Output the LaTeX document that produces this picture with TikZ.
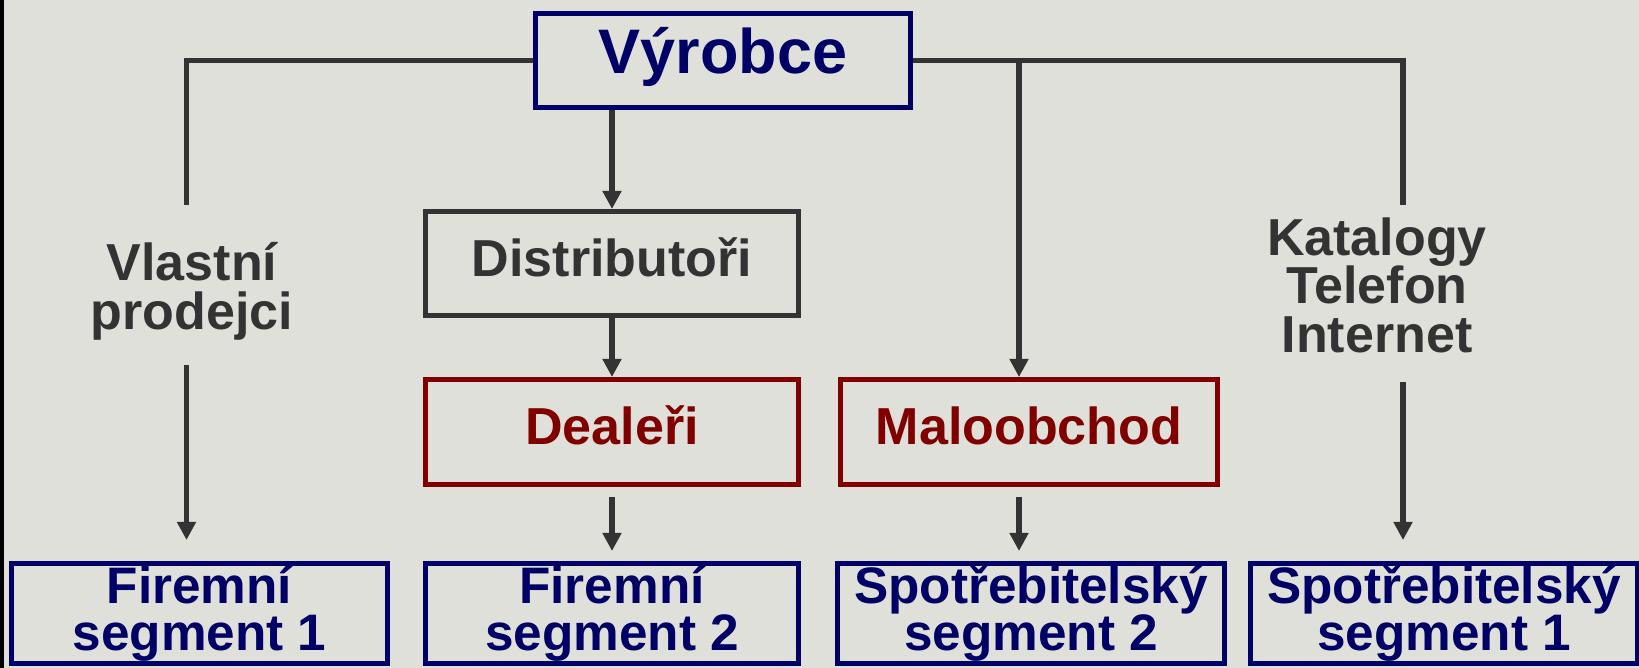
\documentclass[tikz,border=0pt]{standalone}
\usepackage{fontspec}
\setmainfont{Liberation Sans}
\usetikzlibrary{arrows.meta, positioning}

\definecolor{navy}{RGB}{0,0,102}
\definecolor{maroon}{RGB}{128,0,0}
\definecolor{darkline}{RGB}{51,51,51}
\definecolor{granite}{RGB}{224,224,218}

\begin{document}
\lineskiplimit=-1cm
\normallineskiplimit=-1cm
\begin{tikzpicture}[auto,
    txt/.style={font=\fontsize{14.6}{13.3}\selectfont\bfseries},
    box/.style={draw, txt, line width=1.4pt, inner sep=0pt, align=center,
      minimum width=3.73cm, minimum height=1.05cm, text height=0.44cm, text depth=0.18cm},
    segbox/.style={draw=navy, text=navy, txt, line width=1.4pt, inner sep=0pt,
      align=center, minimum width=3.73cm, minimum height=1.0cm},
    chan/.style={txt, font=\fontsize{14.8}{13.8}\selectfont\bfseries, text=darkline,
      align=center, inner sep=0pt},
    line/.style={draw=darkline, line width=1.65pt},
    arr/.style={line, -{Triangle[length=5.2pt, width=5.2pt]}}]
    \useasboundingbox (0,0) rectangle (16.39,-6.68);
    \fill[granite] (0,0) rectangle (16.39,-6.68);
    \fill[black] (0,0) rectangle (0.04,-6.68);

    % Nodes
    \node (vyrobce) [box, draw=navy, text=navy, minimum width=3.75cm, minimum height=0.94cm,
      font=\fontsize{17.9}{20}\selectfont\bfseries] at (7.23,-0.605) {Výrobce};
    \node (distrib) [box, draw=darkline, text=darkline, minimum height=1.04cm,
      font=\fontsize{14.8}{13.3}\selectfont\bfseries] at (6.12,-2.635) {Distributoři};
    \node (dealeri) [box, draw=maroon, text=maroon, below of=distrib, node distance=1.685cm,
      font=\fontsize{14.8}{13.3}\selectfont\bfseries] {Dealeři};
    \node (malo) [box, draw=maroon, text=maroon, right of=dealeri, node distance=4.17cm,
      minimum width=3.77cm, font=\fontsize{14.8}{13.3}\selectfont\bfseries] {Maloobchod};
    \node (firemni2) [segbox, below of=dealeri, node distance=1.815cm] {Firemní\\segment 2};
    \node (firemni1) [segbox, left of=firemni2, node distance=4.125cm, minimum width=3.76cm] {Firemní\\segment 1};
    \node (spotreb2) [segbox, right of=firemni2, node distance=4.19cm, minimum width=3.87cm] {Spotřebitelský\\segment 2};
    \node (spotreb1) [segbox, right of=spotreb2, node distance=4.13cm, minimum width=3.87cm] {Spotřebitelský\\segment 1};
    \node (prodejci) [chan] at (1.92,-2.915) {Vlastní\\prodejci};
    \node (katalogy) [chan] at (13.77,-2.85) {Katalogy\\Telefon\\Internet};

    \coordinate (lend) at (1.865,-2.05);
    \coordinate (lstart) at (1.865,-3.65);
    \coordinate (rend) at (14.03,-2.05);
    \coordinate (rstart) at (14.03,-3.82);
    \coordinate (branch) at (10.19,-0.605);

    % Arrows
    \draw[line] (vyrobce.west) -| (lend);
    \draw[line] (vyrobce.east) -| (rend);
    \draw[arr, shorten >=0.21cm] (lstart) -- (lstart |- firemni1.north);
    \draw[arr, shorten >=0.21cm] (rstart) -- (rstart |- spotreb1.north);
    \draw[arr] (vyrobce.south -| distrib.north) -- (distrib.north);
    \draw[arr] (distrib) -- (dealeri);
    \draw[arr, shorten <=0.1cm, shorten >=0.1cm] (dealeri) -- (firemni2);
    \draw[arr] (branch) -- (branch |- malo.north);
    \draw[arr, shorten <=0.1cm, shorten >=0.1cm] (branch |- malo.south) -- (branch |- spotreb2.north);
\end{tikzpicture}
\end{document}
